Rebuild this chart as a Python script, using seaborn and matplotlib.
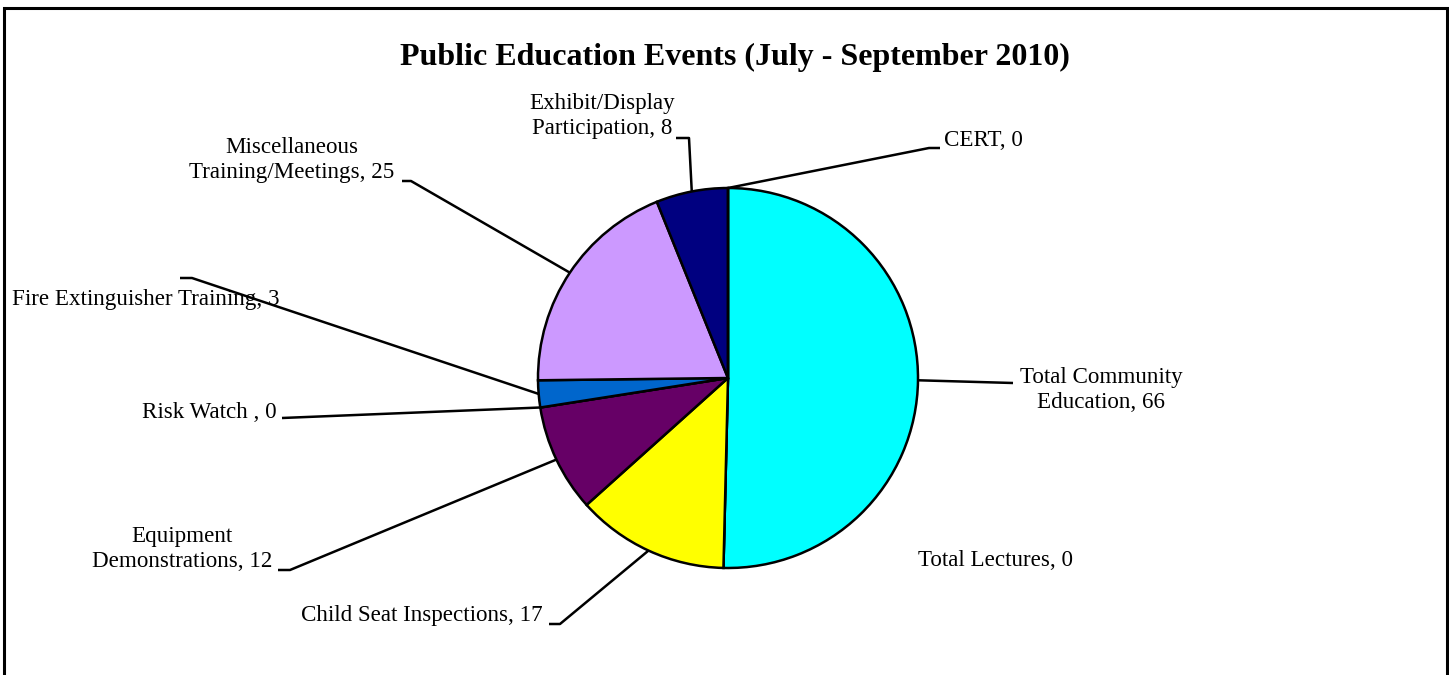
import numpy as np
import matplotlib
matplotlib.use("Agg")
import matplotlib.pyplot as plt
from matplotlib.patches import Rectangle
import seaborn as sns

# data
categories = ["Total Community\nEducation", "Total Lectures", "Child Seat Inspections",
              "Equipment\nDemonstrations", "Risk Watch ", "Fire Extinguisher Training",
              "Miscellaneous\nTraining/Meetings", "Exhibit/Display\nParticipation", "CERT"]
events = [66, 0, 17, 12, 0, 3, 25, 8, 0]
colors = ["#00FFFF", "#FF99CC", "#FFFF00", "#660066", "#FF8080",
          "#0066CC", "#CC99FF", "#000080", "#FF00FF"]

sns.set_theme(style="white")
plt.rcParams["font.family"] = ["Liberation Serif", "DejaVu Serif"]
plt.rcParams["text.color"] = "black"

W, H = 1449, 675
fig = plt.figure(figsize=(W / 100, H / 100), dpi=100)
ax = fig.add_axes([0, 0, 1, 1])

cx, cy, r = 728, H - 378, 190
wedges, _ = ax.pie(events, colors=colors, startangle=90, counterclock=False,
                   center=(cx, cy), radius=r,
                   wedgeprops=dict(edgecolor="black", linewidth=1.8))
ax.set_xlim(0, W)
ax.set_ylim(0, H)
ax.axis("off")

# label layout (pixel coords from top): text x, text y, ha, elbow, line end
layout = [
    (1101, 390, "center", (1013, 383), (1013, 383)),
    (995, 560, "center", None, None),
    (543, 615, "right", (560, 624), (549, 624)),
    (182, 549, "center", (290, 570), (278, 570)),
    (277, 413, "right", (282, 418), (282, 418)),
    (12, 299, "left", (192, 278), (180, 278)),
    (292, 160, "center", (411, 181), (402, 181)),
    (602, 116, "center", (689, 138), (676, 138)),
    (944, 141, "left", (929, 148), (940, 148)),
]

for w, cat, val, (tx, ty, ha, elbow, end) in zip(wedges, categories, events, layout):
    txt = f"{cat}, {val}"
    ax.text(tx, H - ty, txt, ha=ha, va="center", fontsize=16.6, color="black",
            multialignment="center", linespacing=1.3)
    if elbow is None:
        continue
    mid = np.deg2rad((w.theta1 + w.theta2) / 2)
    ax_x = cx + r * np.cos(mid)
    ax_y = cy + r * np.sin(mid)
    ax.plot([ax_x, elbow[0], end[0]], [ax_y, H - elbow[1], H - end[1]],
            color="black", lw=1.8, solid_capstyle="butt", zorder=0)

ax.text(735, H - 57, "Public Education Events (July - September 2010)",
        ha="center", va="center", fontsize=23, fontweight="bold", color="black")

# chart frame
fig.patches.append(Rectangle((4 / W, -0.02), (1447 - 4) / W, (H - 7.5) / H + 0.02,
                             transform=fig.transFigure, fill=False,
                             edgecolor="black", linewidth=2.2))

fig.savefig("out.png", dpi=100)
